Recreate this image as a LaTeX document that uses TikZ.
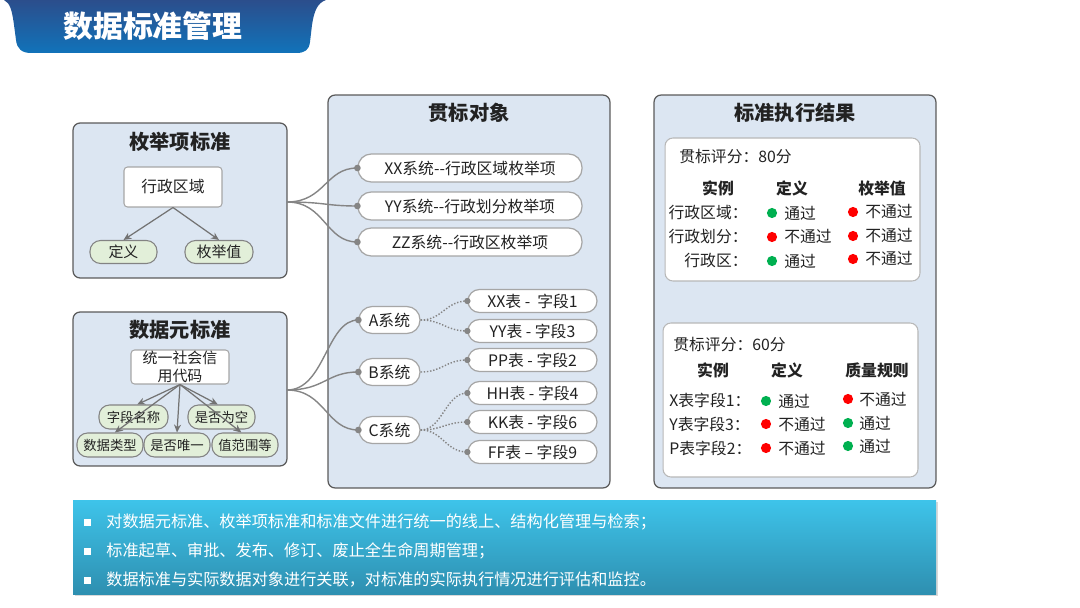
\documentclass[tikz,border=0pt]{standalone}
\usepackage{fontspec}
\setmainfont{Noto Sans CJK SC}
\usetikzlibrary{arrows.meta}
\definecolor{boxbg}{HTML}{DCE6F2}
\definecolor{boxln}{HTML}{5A5A5A}
\definecolor{ovalbg}{HTML}{E2EFD9}
\definecolor{lnk}{HTML}{858585}
\definecolor{pillln}{HTML}{A6A6A6}
\definecolor{okgreen}{HTML}{00B050}
\definecolor{badred}{HTML}{FF0000}
\definecolor{bantop}{HTML}{2B4E8C}
\definecolor{banbot}{HTML}{1173BA}
\definecolor{bartop}{HTML}{3EC4EA}
\definecolor{barbot}{HTML}{2E8FB0}
\definecolor{txt}{HTML}{222222}
\newcommand\fBanner{\fontsize{17pt}{20pt}\selectfont\bfseries}
\newcommand\fHead{\fontsize{11.5pt}{14pt}\selectfont\bfseries}
\newcommand\fMid{\fontsize{9pt}{10.5pt}\selectfont}
\newcommand\fSm{\fontsize{8.5pt}{10pt}\selectfont}
\newcommand\fXs{\fontsize{7.6pt}{9pt}\selectfont}
\newcommand\fBar{\fontsize{9.2pt}{11pt}\selectfont}
\begin{document}
\begin{tikzpicture}[x=0.02cm,y=-0.02cm,
  bigbox/.style={draw=boxln,fill=boxbg,line width=0.7pt,rounded corners=4pt,inner sep=0pt},
  panel/.style={draw=pillln!80,fill=white,line width=0.6pt,rounded corners=4.5pt,inner sep=0pt},
  wbox/.style={draw=pillln,fill=white,line width=0.6pt,rounded corners=2pt,inner sep=0pt,text=txt},
  ovl/.style={draw=boxln!75,fill=ovalbg,line width=0.6pt,rounded corners=6pt,inner sep=0pt,text=txt},
  pill/.style={draw=pillln,fill=white,line width=0.7pt,rounded corners=7.5pt,inner sep=0pt,text=txt,font=\fMid},
  hd/.style={font=\fHead,text=txt},
  arr/.style={draw=boxln!85,line width=0.7pt,-{Stealth[length=4.5pt,width=4pt]}},
  conn/.style={draw=lnk,line width=0.8pt},
  dconn/.style={draw=lnk,line width=0.8pt,dash pattern=on 0.8pt off 1pt},
  dot/.style={fill=lnk},
  ptxt/.style={font=\fMid,text=txt,inner sep=0pt},
  pbold/.style={font=\fMid\bfseries,text=txt,inner sep=0pt},
]
\useasboundingbox (0,0) rectangle (1080,608);
% banner
\shade[top color=bantop,bottom color=banbot]
  (4,0) -- (326,0) .. controls (317,3) and (314,12) .. (312,25) -- (310,42)
  .. controls (309,50) and (305,53) .. (296,53) -- (31,53)
  .. controls (22,53) and (17,49) .. (16,40) -- (14,25)
  .. controls (12,10) and (10,3) .. (4,0) -- cycle;
\node[font=\fBanner,text=white] (title) at (153,26) {数据标准管理};

% Box 1
\node[bigbox,minimum width=4.28cm,minimum height=3.10cm] (b1) at (180,200.5) {};
\node[hd] (b1t) at (180,142) {枚举项标准};
\node[wbox,font=\fMid,minimum width=1.96cm,minimum height=0.80cm] (xzqy) at (173,187) {行政区域};
\node[ovl,font=\fSm,minimum width=1.34cm,minimum height=0.46cm] (dy) at (123.5,252) {定义};
\node[ovl,font=\fSm,minimum width=1.36cm,minimum height=0.46cm] (mjz) at (219,252) {枚举值};
\draw[arr] (xzqy.south) -- (dy.north);
\draw[arr] (xzqy.south) -- (mjz.north);

% Box 2
\node[bigbox,minimum width=4.28cm,minimum height=3.08cm] (b2) at (180,389) {};
\node[hd] (b2t) at (180,330) {数据元标准};
\node[wbox,font=\fSm,align=center,minimum width=1.96cm,minimum height=0.68cm] (tyc) at (180,367) {统一社会信\\用代码};
\node[ovl,font=\fXs,minimum width=1.38cm,minimum height=0.48cm] (zdmc) at (133.5,417) {字段名称};
\node[ovl,font=\fXs,minimum width=1.34cm,minimum height=0.48cm] (sfwk) at (221.5,417) {是否为空};
\node[ovl,font=\fXs,minimum width=1.32cm,minimum height=0.48cm] (sjlx) at (110,445) {数据类型};
\node[ovl,font=\fXs,minimum width=1.32cm,minimum height=0.48cm] (sfwy) at (177,445) {是否唯一};
\node[ovl,font=\fXs,minimum width=1.32cm,minimum height=0.48cm] (zfwd) at (245,445) {值范围等};
\draw[arr] (tyc.south) -- ([xshift=3\pgflinewidth]zdmc.north);
\draw[arr] (tyc.south) -- ([xshift=-3\pgflinewidth]sfwk.north);
\draw[arr] (tyc.south) -- ([xshift=4\pgflinewidth]sjlx.north);
\draw[arr] (tyc.south) -- (sfwy.north);
\draw[arr] (tyc.south) -- ([xshift=-3\pgflinewidth]zfwd.north);

% Box 3
\node[bigbox,minimum width=5.64cm,minimum height=7.86cm] (b3) at (469,291.5) {};
\node[hd] (b3t) at (469,113) {贯标对象};
\node[pill,minimum width=4.48cm,minimum height=0.56cm] (p1) at (470,168) {XX系统-{}-行政区域枚举项};
\node[pill,minimum width=4.48cm,minimum height=0.56cm] (p2) at (470,206) {YY系统-{}-行政划分枚举项};
\node[pill,minimum width=4.48cm,minimum height=0.56cm] (p3) at (470,242) {ZZ系统-{}-行政区枚举项};
\node[pill,minimum width=1.22cm,minimum height=0.54cm] (sa) at (389.5,320) {A系统};
\node[pill,minimum width=1.22cm,minimum height=0.54cm] (sb) at (389.5,372) {B系统};
\node[pill,minimum width=1.22cm,minimum height=0.54cm] (sc) at (389.5,430) {C系统};
\node[pill,rounded corners=6.5pt,minimum width=2.58cm,minimum height=0.46cm] (q1) at (532.5,301) {XX表 -\ \ 字段1};
\node[pill,rounded corners=6.5pt,minimum width=2.58cm,minimum height=0.46cm] (q2) at (532.5,331) {YY表 - 字段3};
\node[pill,rounded corners=6.5pt,minimum width=2.58cm,minimum height=0.46cm] (q3) at (532.5,360) {PP表 - 字段2};
\node[pill,rounded corners=6.5pt,minimum width=2.58cm,minimum height=0.46cm] (q4) at (532.5,393) {HH表 - 字段4};
\node[pill,rounded corners=6.5pt,minimum width=2.58cm,minimum height=0.46cm] (q5) at (532.5,422) {KK表 - 字段6};
\node[pill,rounded corners=6.5pt,minimum width=2.58cm,minimum height=0.46cm] (q6) at (532.5,452) {FF表 – 字段9};

\coordinate (o1) at (287,202);
\coordinate (o2) at (287,390);
\foreach \t in {p1,p2,p3} {
  \draw[conn] (o1) .. controls +(38,0) and +(-32,0) .. (\t.west);
  \fill[dot] (\t.west) circle[radius=1.9pt];
}
\foreach \t in {sa,sb,sc} {
  \draw[conn] (o2) .. controls +(38,0) and +(-32,0) .. (\t.west);
  \fill[dot] (\t.west) circle[radius=1.9pt];
}
\foreach \s/\t in {sa/q1,sa/q2,sb/q3,sc/q4,sc/q5,sc/q6} {
  \draw[dconn] (\s.east) .. controls +(22,0) and +(-22,0) .. (\t.west);
  \fill[dot] (\t.west) circle[radius=1.8pt];
}

% Box 4
\node[bigbox,minimum width=5.64cm,minimum height=7.86cm] (b4) at (795,291.5) {};
\node[hd] (b4t) at (795,113) {标准执行结果};
\node[panel,minimum width=5.10cm,minimum height=2.86cm] (pn1) at (792.5,209.5) {};
\node[panel,minimum width=5.10cm,minimum height=3.08cm] (pn2) at (790.5,400) {};

% Panel 1 content
\node[ptxt,anchor=west] (s1) at (679,157) {贯标评分：80分};
\node[pbold] (h11) at (718,188) {实例};
\node[pbold] (h12) at (792,188) {定义};
\node[pbold] (h13) at (882,188) {枚举值};
\node[ptxt,anchor=east] (r11) at (748,213) {行政区域：};
\node[ptxt,anchor=east] (r12) at (748,237) {行政划分：};
\node[ptxt,anchor=east] (r13) at (748,261) {行政区：};
\fill[okgreen] (772,213) circle[radius=2.9pt];
\fill[badred] (772,237) circle[radius=2.9pt];
\fill[okgreen] (772,261) circle[radius=2.9pt];
\node[ptxt,anchor=west] (c11) at (784,213) {通过};
\node[ptxt,anchor=west] (c12) at (784,237) {不通过};
\node[ptxt,anchor=west] (c13) at (784,261) {通过};
\fill[badred] (853,212) circle[radius=2.9pt];
\fill[badred] (853,236) circle[radius=2.9pt];
\fill[badred] (853,259) circle[radius=2.9pt];
\node[ptxt,anchor=west] (d11) at (865,212) {不通过};
\node[ptxt,anchor=west] (d12) at (865,236) {不通过};
\node[ptxt,anchor=west] (d13) at (865,259) {不通过};

% Panel 2 content
\node[ptxt,anchor=west] (s2) at (673,345) {贯标评分：60分};
\node[pbold] (h21) at (713,370) {实例};
\node[pbold] (h22) at (787,370) {定义};
\node[pbold] (h23) at (877,370) {质量规则};
\node[ptxt,anchor=west] (r21) at (669,400) {X表字段1：};
\node[ptxt,anchor=west] (r22) at (669,424) {Y表字段3：};
\node[ptxt,anchor=west] (r23) at (669,448) {P表字段2：};
\fill[okgreen] (766,401) circle[radius=2.9pt];
\fill[badred] (766,424) circle[radius=2.9pt];
\fill[badred] (766,448) circle[radius=2.9pt];
\node[ptxt,anchor=west] (c21) at (778,401) {通过};
\node[ptxt,anchor=west] (c22) at (778,424) {不通过};
\node[ptxt,anchor=west] (c23) at (778,448) {不通过};
\fill[badred] (848,399) circle[radius=2.9pt];
\fill[okgreen] (848,423) circle[radius=2.9pt];
\fill[okgreen] (848,446) circle[radius=2.9pt];
\node[ptxt,anchor=west] (d21) at (859,399) {不通过};
\node[ptxt,anchor=west] (d22) at (859,423) {通过};
\node[ptxt,anchor=west] (d23) at (859,446) {通过};

% Bottom bar
\fill[black!15] (75,502) rectangle (938,596);
\shade[top color=bartop,bottom color=barbot] (73,500) rectangle (936,594);
\coordinate (bar) at (504.5,547);
\foreach \yy in {522,551,580} { \fill[white] (84,\yy-3.5) rectangle (91,\yy+3.5); }
\node[font=\fBar,text=white,anchor=west,inner sep=0pt] (l1) at (106,522) {对数据元标准、枚举项标准和标准文件进行统一的线上、结构化管理与检索；};
\node[font=\fBar,text=white,anchor=west,inner sep=0pt] (l2) at (106,551) {标准起草、审批、发布、修订、废止全生命周期管理；};
\node[font=\fBar,text=white,anchor=west,inner sep=0pt] (l3) at (106,580) {数据标准与实际数据对象进行关联，对标准的实际执行情况进行评估和监控。};
\end{tikzpicture}
\end{document}
